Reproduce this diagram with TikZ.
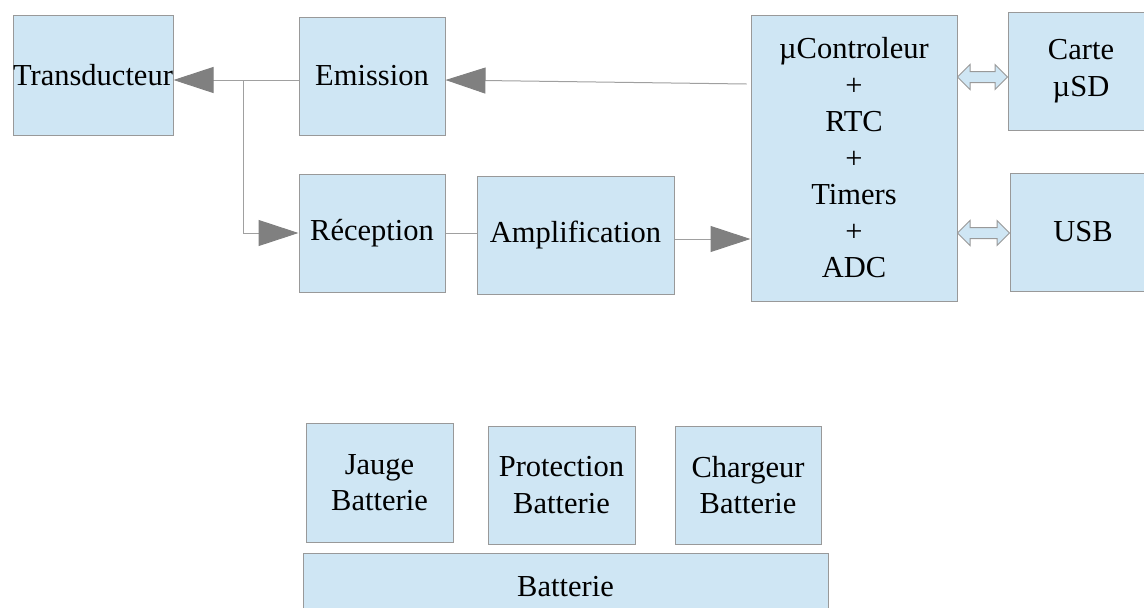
\documentclass[tikz,border=0pt]{standalone}
\usepackage{fontspec}
\setmainfont{Liberation Serif}
\usetikzlibrary{arrows.meta,calc}
\definecolor{boxfill}{HTML}{CFE6F4}
\definecolor{boxline}{HTML}{999999}
\definecolor{linegray}{HTML}{A0A0A0}
\definecolor{tipgray}{HTML}{808080}
\tikzset{
  box/.style={draw=boxline, fill=boxfill, line width=1pt, inner sep=0pt, align=center,
    font=\fontsize{30.5}{36.5}\selectfont},
  conn/.style={draw=linegray, line width=1pt, -{Triangle[length=40pt,width=26pt,color=tipgray]}},
  plain/.style={draw=linegray, line width=1pt},
  dbl/.style={draw=boxline, fill=boxfill, line width=1pt, line join=miter}
}
\begin{document}
\begin{tikzpicture}[x=1pt,y=-1pt]
\useasboundingbox (0,0) rectangle (1144,608);
\clip (0,0) rectangle (1144,608);
\node[box, minimum width=160pt, minimum height=120pt] (tr) at (93,75) {\makebox[0pt]{Transducteur}};
\node[box, minimum width=146pt, minimum height=118pt] (em) at (372,76) {Emission};
\node[box, minimum width=146pt, minimum height=118pt] (rc) at (372,233) {Réception};
\node[box, minimum width=197pt, minimum height=118pt] (am) at (575.5,235) {Amplification};
\node[box, minimum width=206pt, minimum height=286pt] (mc) at (854,158) {µControleur\\+\\RTC\\+\\Timers\\+\\ADC};
\node[box, minimum width=146pt, minimum height=118pt] (sd) at (1081,71) {Carte\\µSD};
\node[box, minimum width=146pt, minimum height=118pt] (usb) at (1083,232) {USB};
\node[box, minimum width=147pt, minimum height=119pt] (jg) at (379.5,482.5) {Jauge\\Batterie};
\node[box, minimum width=147pt, minimum height=118pt] (pr) at (561.5,485) {Protection\\Batterie};
\node[box, minimum width=146pt, minimum height=118pt] (ch) at (748,485) {Chargeur\\Batterie};
\node[box, minimum width=525pt, minimum height=68pt] (bat) at (565.5,587) {Batterie};
% connectors
\coordinate (br) at (243,80);
\draw[conn] ($(mc.west)+(-4,-74)$) -- ($(em.east)+(0,4)$);
\draw[conn] (em.west |- br) -- (tr.east |- br);
\draw[conn] (br) |- (rc.west);
\draw[plain] (rc.east) -- (am.west |- rc.east);
\draw[conn] ($(am.east)+(0,4)$) -- (mc.west |- {$(am.east)+(0,4)$});
% double arrows
\foreach \tgt/\dy in {sd/6, usb/1} {
  \draw[dbl] let \p1=(mc.east), \p2=($(\tgt.west)+(0,\dy)$) in
    (\x1,\y2) -- (\x1+12.5pt,\y2+12.5pt) -- (\x1+12.5pt,\y2+5.5pt) -- (\x2-12.5pt,\y2+5.5pt)
    -- (\x2-12.5pt,\y2+12.5pt) -- (\x2,\y2) -- (\x2-12.5pt,\y2-12.5pt) -- (\x2-12.5pt,\y2-5.5pt)
    -- (\x1+12.5pt,\y2-5.5pt) -- (\x1+12.5pt,\y2-12.5pt) -- cycle;
}
\end{tikzpicture}
\end{document}
